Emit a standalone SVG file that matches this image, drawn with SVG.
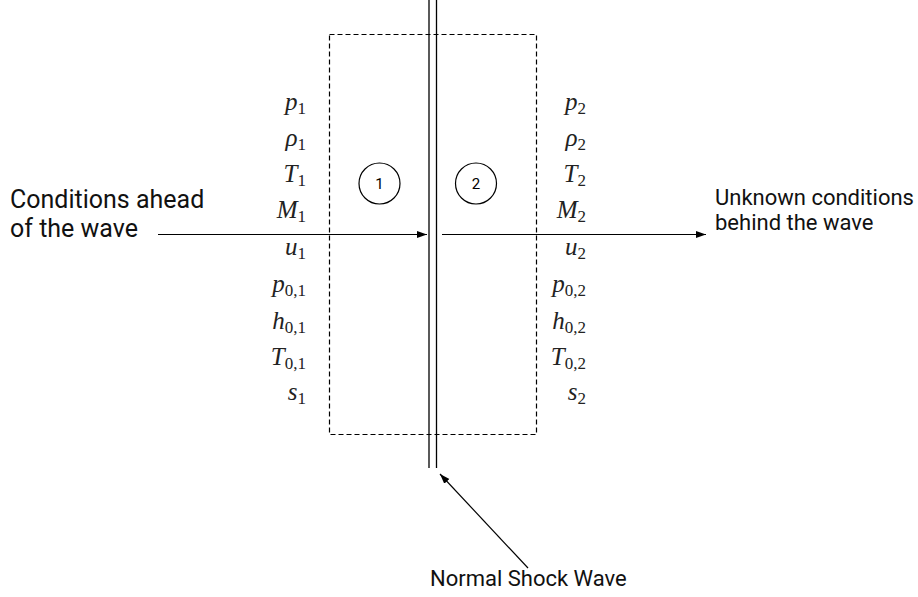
<svg xmlns="http://www.w3.org/2000/svg" width="918" height="597" viewBox="0 0 918 597">
  <defs>
    <marker id="arrow" viewBox="0 0 10 10" refX="10" refY="5" markerWidth="10" markerHeight="10" markerUnits="userSpaceOnUse" orient="auto">
      <path d="M0,1.5 L10,5 L0,8.5 Z" fill="#000"/>
    </marker>
  </defs>
  <style>
    .lbl { font-family: Roboto, "Liberation Sans", sans-serif; fill: #111; }
    .var { font-family: "Liberation Serif", "DejaVu Serif", serif; font-size: 25px; font-style: italic; fill: #222; text-anchor: end; }
    .sub { font-style: normal; font-size: 17px; }
    .line { stroke: #000; stroke-width: 1.3; fill: none; }
    .circ { stroke: #000; stroke-width: 1.2; fill: none; }
    .num { font-family: Roboto, "Liberation Sans", sans-serif; font-size: 15px; text-anchor: middle; fill: #000; }
  </style>
  <rect width="918" height="597" fill="#fff"/>

  <!-- control volume around the shock -->
  <g id="control-volume">
    <rect x="329.5" y="34.5" width="207" height="400" fill="none" stroke="#000" stroke-width="1.2" stroke-dasharray="5,3"/>
  </g>

  <!-- shock wave drawn as a thin double line -->
  <g id="shock">
    <line class="line" x1="429" y1="0" x2="429" y2="468"/>
    <line class="line" x1="436.5" y1="0" x2="436.5" y2="468"/>
  </g>

  <g id="region1">
    <circle class="circ" cx="379.5" cy="183.5" r="20.5"/>
    <text class="num" x="379.5" y="188.5">1</text>
  </g>
  <g id="region2">
    <circle class="circ" cx="476" cy="183.5" r="20.5"/>
    <text class="num" x="476" y="188.5">2</text>
  </g>

  <g id="label-ahead">
    <text class="lbl" font-size="25" x="10" y="208">Conditions ahead</text>
    <text class="lbl" font-size="25" x="10" y="237">of the wave</text>
  </g>
  <g id="label-behind">
    <text class="lbl" font-size="22" x="715" y="205">Unknown conditions</text>
    <text class="lbl" font-size="22" x="715" y="230">behind the wave</text>
  </g>
  <g id="label-shock">
    <text class="lbl" font-size="22" x="430" y="586">Normal Shock Wave</text>
  </g>

  <!-- upstream state variables -->
  <g id="state1">
    <text class="var" x="306" y="110">p<tspan class="sub" dy="4">1</tspan></text>
    <text class="var" x="306" y="146">ρ<tspan class="sub" dy="4">1</tspan></text>
    <text class="var" x="306" y="182">T<tspan class="sub" dy="4">1</tspan></text>
    <text class="var" x="306" y="218">M<tspan class="sub" dy="4">1</tspan></text>
    <text class="var" x="306" y="255">u<tspan class="sub" dy="4">1</tspan></text>
    <text class="var" x="306" y="292">p<tspan class="sub" dy="4">0,1</tspan></text>
    <text class="var" x="306" y="329">h<tspan class="sub" dy="4">0,1</tspan></text>
    <text class="var" x="306" y="365">T<tspan class="sub" dy="4">0,1</tspan></text>
    <text class="var" x="306" y="400">s<tspan class="sub" dy="4">1</tspan></text>
  </g>

  <!-- downstream state variables -->
  <g id="state2">
    <text class="var" x="586" y="110">p<tspan class="sub" dy="4">2</tspan></text>
    <text class="var" x="586" y="146">ρ<tspan class="sub" dy="4">2</tspan></text>
    <text class="var" x="586" y="182">T<tspan class="sub" dy="4">2</tspan></text>
    <text class="var" x="586" y="218">M<tspan class="sub" dy="4">2</tspan></text>
    <text class="var" x="586" y="255">u<tspan class="sub" dy="4">2</tspan></text>
    <text class="var" x="586" y="292">p<tspan class="sub" dy="4">0,2</tspan></text>
    <text class="var" x="586" y="329">h<tspan class="sub" dy="4">0,2</tspan></text>
    <text class="var" x="586" y="365">T<tspan class="sub" dy="4">0,2</tspan></text>
    <text class="var" x="586" y="400">s<tspan class="sub" dy="4">2</tspan></text>
  </g>

  <g id="connectors">
    <line x1="158" y1="234.5" x2="427" y2="234.5" stroke="#000" stroke-width="1.2" marker-end="url(#arrow)"/>
    <line x1="442" y1="234.5" x2="706" y2="234.5" stroke="#000" stroke-width="1.2" marker-end="url(#arrow)"/>
    <line x1="528" y1="568" x2="440" y2="474" stroke="#000" stroke-width="1.2" marker-end="url(#arrow)"/>
  </g>
</svg>
